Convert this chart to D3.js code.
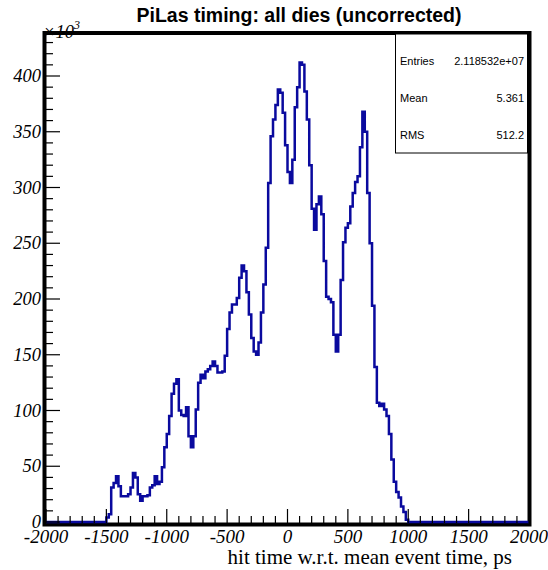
<!DOCTYPE html>
<html><head><meta charset="utf-8">
<script src="https://cdn.jsdelivr.net/npm/d3@7"></script>
<style>body{margin:0;background:#fff}svg{display:block}</style>
</head><body>
<svg id="c" width="548" height="570"></svg>
<script>
// ---- data (counts in thousands, 20 ps bins) ----
const xRange = [-2000, 2000];
const binWidth = 20;
const firstBinLow = -1500;
const counts = [
  4,7,31,35,41,32,23,23,23,25,
  31,44,40,25,19,23,23,24,31,33,
  41,34,36,49,67,79,95,115,124,128,
  100,96,95,103,77,67,77,101,125,132,
  129,135,137,140,144,140,134,134,135,149,
  173,188,195,195,201,219,230,225,206,186,
  165,153,150,161,188,213,
  246,304,346,361,374,388,385,367,338,314,
  304,325,372,390,412,410,386,361,320,281,
  262,285,292,276,234,202,
  200,197,168,153,168,217,251,264,268,283,
  295,305,310,336,368,350,295,250,194,139,
  107,104,106,101,95,79,56,36,27,22,
  14,9,2
];
const xTickLabels = ["-2000","-1500","-1000","-500","0","500","1000","1500","2000"];
const yTickLabels = ["0","50","100","150","200","250","300","350","400"];
const titleText = "PiLas timing: all dies (uncorrected)";
const xAxisTitle = "hit time w.r.t. mean event time, ps";
const statsNames = ["Entries","Mean","RMS"];
const statsValues = ["2.118532e+07","5.361","512.2"];

// ---- layout ----
const svg = d3.select("#c");
const L = 46, R = 529, T = 33, B = 522;
const x = d3.scaleLinear().domain(xRange).range([L, R]);
const y = d3.scaleLinear().domain([0, 400]).range([B, 76]);

// histogram step path
const pts = [];
pts.push([x(xRange[0]), y(0)]);
pts.push([x(firstBinLow), y(0)]);
counts.forEach((c, i) => {
  const x0 = firstBinLow + i * binWidth, x1 = x0 + binWidth;
  pts.push([x(x0), y(c)]);
  pts.push([x(x1), y(c)]);
});
const lastEdge = firstBinLow + counts.length * binWidth;
pts.push([x(lastEdge), y(0)]);
pts.push([x(xRange[1]), y(0)]);
const line = d3.line();

// frame
svg.append("rect").attr("x", 44.5).attr("y", T).attr("width", 485).attr("height", 524.5 - T)
  .attr("fill", "none").attr("stroke", "#000").attr("stroke-width", 4);

svg.append("path").attr("d", line(pts)).attr("fill", "none")
  .attr("stroke", "#0a0a9e").attr("stroke-width", 2.5).attr("stroke-linejoin", "miter");

// x ticks
const xMinor = d3.range(-2000, 2001, 100);
svg.append("g").selectAll("line").data(xMinor).join("line")
  .attr("x1", d => x(d)).attr("x2", d => x(d))
  .attr("y1", 523).attr("y2", d => d % 500 === 0 ? 509 : 516)
  .attr("stroke", "#000").attr("stroke-width", 1.2);
// y ticks
const yMinor = d3.range(0, 431, 10);
svg.append("g").selectAll("line").data(yMinor).join("line")
  .attr("y1", d => y(d)).attr("y2", d => y(d))
  .attr("x1", 46).attr("x2", d => d % 50 === 0 ? 60 : 53)
  .attr("stroke", "#000").attr("stroke-width", 1.2);

// tick labels
svg.append("g").selectAll("text").data(xTickLabels).join("text")
  .attr("x", d => x(+d)).attr("y", 543)
  .attr("text-anchor", "middle")
  .attr("font-family", "Liberation Serif, Times New Roman, serif")
  .attr("font-style", "italic").attr("font-size", 19).text(d => d);
svg.append("g").selectAll("text").data(yTickLabels).join("text")
  .attr("x", 41).attr("y", d => y(+d) + 6)
  .attr("text-anchor", "end")
  .attr("font-family", "Liberation Serif, Times New Roman, serif")
  .attr("font-style", "italic").attr("font-size", 18.5).text(d => d);

// x10^3
const mult = svg.append("text").attr("x", 43).attr("y", 38)
  .attr("font-family", "Liberation Serif, Times New Roman, serif")
  .attr("font-style", "italic").attr("font-size", 18.5);
mult.append("tspan").text("\u00d710");
mult.append("tspan").attr("dy", -9).attr("font-size", 12).text("3");

// title
svg.append("text").attr("x", 299).attr("y", 22).attr("text-anchor", "middle")
  .attr("font-family", "Liberation Sans, Arial, sans-serif").attr("font-weight", "bold")
  .attr("font-size", 19.5).text(titleText);

// axis title
svg.append("text").attr("x", 512).attr("y", 564).attr("text-anchor", "end")
  .attr("font-family", "Liberation Serif, Times New Roman, serif")
  .attr("font-size", 21).text(xAxisTitle);

// stats box
svg.append("rect").attr("x", 395.5).attr("y", 34).attr("width", 132).attr("height", 119)
  .attr("fill", "#fff").attr("stroke", "#000").attr("stroke-width", 1);
const sy = [65, 102, 139];
statsNames.forEach((n, i) => {
  svg.append("text").attr("x", 400).attr("y", sy[i])
    .attr("font-family", "Liberation Sans, Arial, sans-serif").attr("font-size", 11).text(n);
  svg.append("text").attr("x", 524).attr("y", sy[i]).attr("text-anchor", "end")
    .attr("font-family", "Liberation Sans, Arial, sans-serif").attr("font-size", 11).text(statsValues[i]);
});
</script>
</body></html>
